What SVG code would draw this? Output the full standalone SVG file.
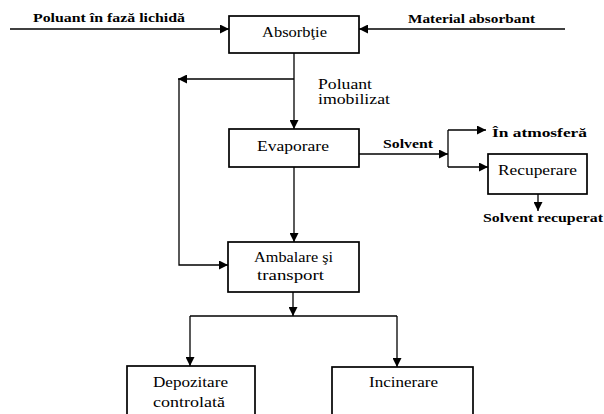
<svg xmlns="http://www.w3.org/2000/svg" width="604" height="414" viewBox="0 0 604 414">
<style>
.box{fill:#fff;stroke:#000;stroke-width:1.7}
.ln{fill:none;stroke:#000;stroke-width:1.3}
.t{font-family:'Liberation Serif','Times New Roman','DejaVu Serif',serif;font-size:15px;fill:#000}
.b{font-family:'Liberation Serif','Times New Roman','DejaVu Serif',serif;font-size:13px;font-weight:bold;fill:#000}
</style>
<defs>
<marker id="ah" viewBox="0 0 10 10" refX="10" refY="5" markerWidth="10" markerHeight="9" markerUnits="userSpaceOnUse" orient="auto">
<path d="M0,0 L10,5 L0,10 z" fill="#000"/>
</marker>
</defs>
<rect width="604" height="414" fill="#fff"/>
<g id="connectors">
<path class="ln" d="M10,29 H229" marker-end="url(#ah)"/>
<path class="ln" d="M565,29 H359" marker-end="url(#ah)"/>
<path class="ln" d="M294,53 V129" marker-end="url(#ah)"/>
<path class="ln" d="M294,79 H178" marker-end="url(#ah)"/>
<path class="ln" d="M179,79 V265 H228" marker-end="url(#ah)"/>
<path class="ln" d="M294,167 V242" marker-end="url(#ah)"/>
<path class="ln" d="M359,154 H448" marker-end="url(#ah)"/>
<path class="ln" d="M448,130 V167"/>
<path class="ln" d="M448,130 H486" marker-end="url(#ah)"/>
<path class="ln" d="M448,167 H488" marker-end="url(#ah)"/>
<path class="ln" d="M538,194 V211" marker-end="url(#ah)"/>
<path class="ln" d="M293,292 V316" marker-end="url(#ah)"/>
<path class="ln" d="M190,316 H397"/>
<path class="ln" d="M190,316 V366" marker-end="url(#ah)"/>
<path class="ln" d="M397,316 V367" marker-end="url(#ah)"/>
</g>
<g id="labels">
<text class="b" font-family="Liberation Serif, serif" x="33" y="22" textLength="152" lengthAdjust="spacingAndGlyphs">Poluant în fază lichidă</text>
<text class="b" font-family="Liberation Serif, serif" x="408" y="23" textLength="127" lengthAdjust="spacingAndGlyphs">Material absorbant</text>
<text class="t" font-family="Liberation Serif, serif" x="318" y="89" textLength="54" lengthAdjust="spacingAndGlyphs">Poluant</text>
<text class="t" font-family="Liberation Serif, serif" x="318" y="104" textLength="72" lengthAdjust="spacingAndGlyphs">imobilizat</text>
<text class="b" font-family="Liberation Serif, serif" x="383" y="148" textLength="50" lengthAdjust="spacingAndGlyphs">Solvent</text>
<text class="b" font-family="Liberation Serif, serif" x="492" y="137" textLength="95" lengthAdjust="spacingAndGlyphs">În atmosferă</text>
<text class="b" font-family="Liberation Serif, serif" x="483" y="222" textLength="120" lengthAdjust="spacingAndGlyphs">Solvent recuperat</text>
</g>
<g id="absorbtie">
<rect class="box" x="229" y="16" width="130" height="37"/>
<text class="t" font-family="Liberation Serif, serif" x="262" y="37" textLength="65" lengthAdjust="spacingAndGlyphs">Absorbţie</text>
</g>
<g id="evaporare">
<rect class="box" x="229" y="129" width="130" height="38"/>
<text class="t" font-family="Liberation Serif, serif" x="257" y="151" textLength="72" lengthAdjust="spacingAndGlyphs">Evaporare</text>
</g>
<g id="recuperare">
<rect class="box" x="488" y="154" width="99" height="40"/>
<text class="t" font-family="Liberation Serif, serif" x="498" y="175" textLength="79" lengthAdjust="spacingAndGlyphs">Recuperare</text>
</g>
<g id="ambalare">
<rect class="box" x="228" y="242" width="131" height="50"/>
<text class="t" font-family="Liberation Serif, serif" x="254" y="262" textLength="79" lengthAdjust="spacingAndGlyphs">Ambalare şi</text>
<text class="t" font-family="Liberation Serif, serif" x="257" y="280" textLength="67" lengthAdjust="spacingAndGlyphs">transport</text>
</g>
<g id="depozitare">
<rect class="box" x="127" y="366" width="128" height="60"/>
<text class="t" font-family="Liberation Serif, serif" x="153" y="387" textLength="75" lengthAdjust="spacingAndGlyphs">Depozitare</text>
<text class="t" font-family="Liberation Serif, serif" x="153" y="407" textLength="72" lengthAdjust="spacingAndGlyphs">controlată</text>
</g>
<g id="incinerare">
<rect class="box" x="332" y="367" width="141" height="60"/>
<text class="t" font-family="Liberation Serif, serif" x="369" y="387" textLength="69" lengthAdjust="spacingAndGlyphs">Incinerare</text>
</g>
</svg>
